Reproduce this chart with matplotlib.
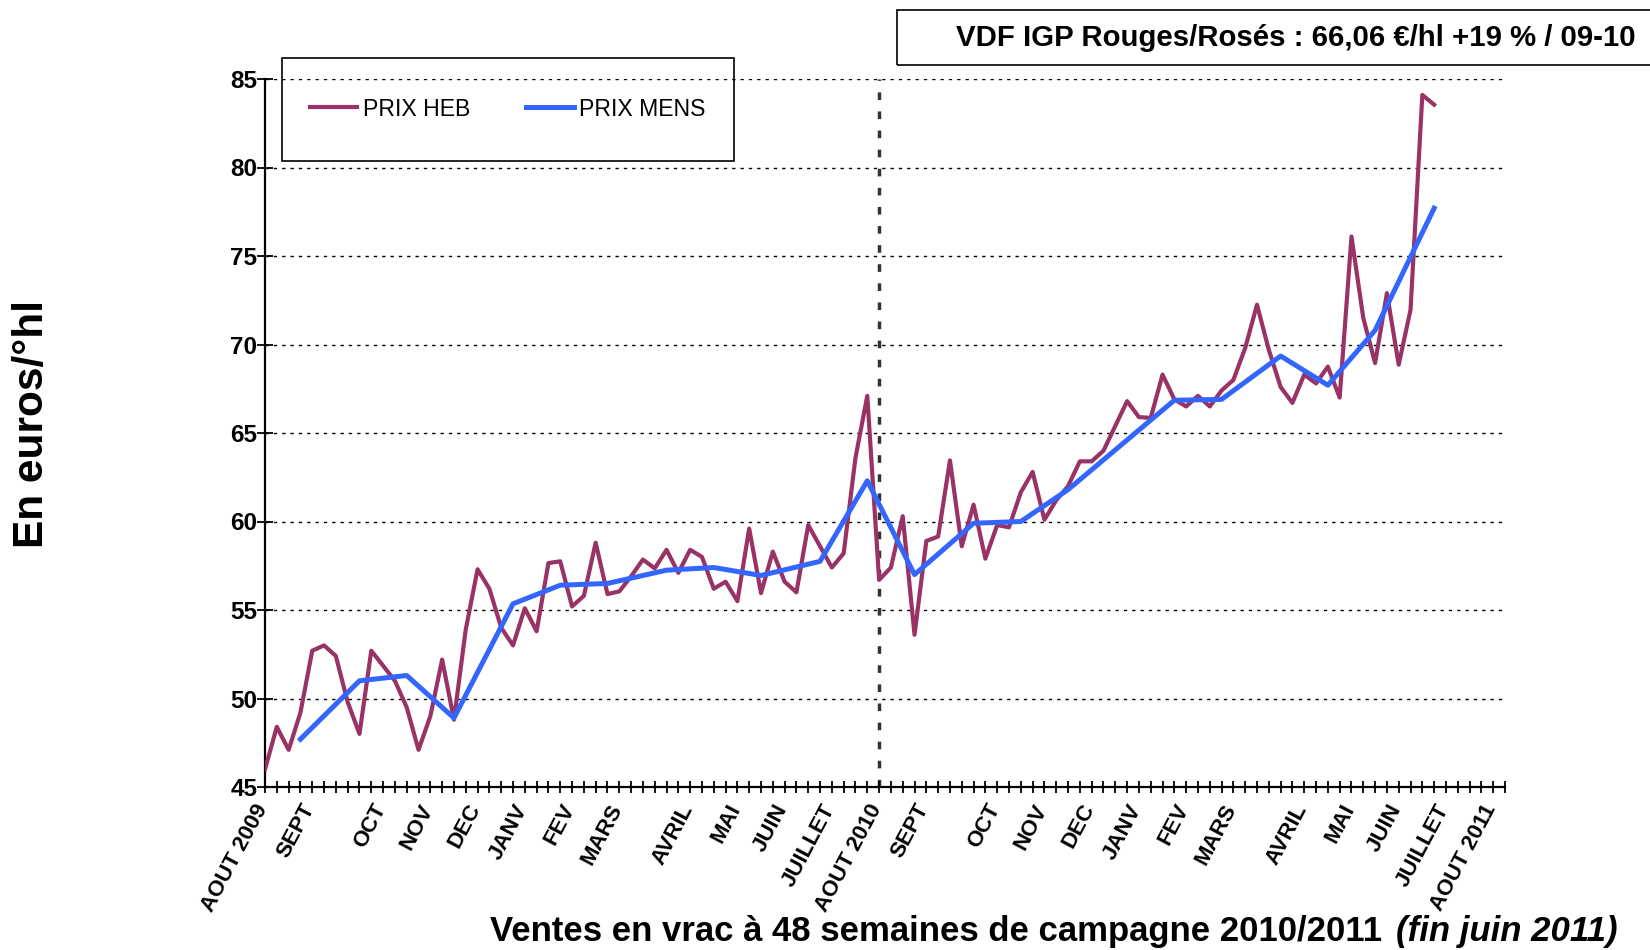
import matplotlib
matplotlib.use("Agg")
import matplotlib.pyplot as plt
from matplotlib.patches import Rectangle
import matplotlib.transforms as mtransforms

plt.rcParams['font.family'] = ['Liberation Sans', 'DejaVu Sans']

# weekly price (PRIX HEB), one point per week from AOUT 2009
heb = [46.0, 48.4, 47.1, 49.2, 52.7, 53.0, 52.4, 49.8, 48.0, 52.7,
       51.85, 51.0, 49.5, 47.1, 49.0, 52.2, 48.8, 53.9, 57.3, 56.2,
       54.0, 53.0, 55.1, 53.8, 57.65, 57.75, 55.2, 55.8, 58.8, 55.9,
       56.05, 56.9, 57.85, 57.35, 58.4, 57.1, 58.4, 58.0, 56.2, 56.6,
       55.5, 59.6, 55.95, 58.3, 56.6, 56.0, 59.8, 58.6, 57.4, 58.2,
       63.6, 67.1, 56.7, 57.4, 60.3, 53.6, 58.9, 59.15, 63.45, 58.6,
       60.95, 57.9, 59.8, 59.67, 61.65, 62.8, 60.1, 61.2, 62.0, 63.4,
       63.4, 64.0, 65.4, 66.8, 65.9, 65.85, 68.3, 66.9, 66.5, 67.1,
       66.5, 67.4, 68.0, 69.8, 72.25, 69.7, 67.6, 66.7, 68.3, 67.8,
       68.75, 67.0, 76.1, 71.5, 68.95, 72.9, 68.86, 71.96, 84.1, 83.55]
weeks = list(range(len(heb)))

# monthly price (PRIX MENS)
mens_weeks = [3, 8, 12, 16, 21, 25, 29, 34, 38, 42, 47, 51,
              55, 60, 64, 68, 77, 81, 86, 90, 94, 99]
mens = [47.7, 51.0, 51.3, 48.9, 55.35, 56.4, 56.5, 57.25, 57.4, 56.95, 57.75, 62.3,
        57.0, 59.9, 60.0, 61.8, 66.85, 66.9, 69.35, 67.7, 70.8, 77.7]

month_pos = [0, 4, 10, 14, 18, 22, 26, 30, 36, 40, 44, 48, 52,
             56, 62, 66, 70, 74, 78, 82, 88, 92, 96, 100, 104]
month_lab = ['AOUT 2009', 'SEPT', 'OCT', 'NOV', 'DEC', 'JANV', 'FEV', 'MARS',
             'AVRIL', 'MAI', 'JUIN', 'JUILLET', 'AOUT 2010',
             'SEPT', 'OCT', 'NOV', 'DEC', 'JANV', 'FEV', 'MARS',
             'AVRIL', 'MAI', 'JUIN', 'JUILLET', 'AOUT 2011']
n_ticks = 106

fig = plt.figure(figsize=(16.5, 9.5), dpi=100)
ax = fig.add_axes([265/1650, 1-787/950, 1240/1650, 708/950])

# grid
for v in range(50, 90, 5):
    ax.axhline(v, color='black', lw=1.0, dashes=(2.4, 3.6), zorder=1)
ax.axvline(52, color='#333333', lw=2.5, dashes=(2.2, 3.3), zorder=1)

ax.plot(weeks, heb, color='#993366', lw=3.0, label='PRIX HEB', zorder=3)
ax.plot(mens_weeks, mens, color='#3366FF', lw=3.6, label='PRIX MENS', zorder=4)

ax.set_xlim(0, n_ticks - 1)
ax.set_ylim(45, 85)
ax.set_yticks(range(45, 90, 5))
ax.tick_params(axis='y', direction='inout', length=11, width=1.3, labelsize=17.5, pad=0)
for t in ax.get_yticklabels():
    t.set_fontweight('bold')

labels = [''] * n_ticks
for p, l in zip(month_pos, month_lab):
    labels[p] = l
ax.set_xticks(range(n_ticks))
ax.set_xticklabels(labels, rotation=62, rotation_mode='anchor', ha='right',
                   va='center', fontsize=16, fontweight='bold')
ax.tick_params(axis='x', direction='inout', length=8.5, width=1.3, pad=9)
shift = mtransforms.ScaledTranslation(-2/100, 0, fig.dpi_scale_trans)
for t in ax.get_xticklabels():
    t.set_transform(t.get_transform() + shift)

for s in ['top', 'right']:
    ax.spines[s].set_visible(False)
for s in ['left', 'bottom']:
    ax.spines[s].set_linewidth(1.6)

# legend: frameless entries plus a drawn box
leg = ax.legend(ncol=2, loc='center left',
                bbox_to_anchor=(310/1650, 1-109/950),
                bbox_transform=fig.transFigure, fontsize=16.6, frameon=False,
                borderpad=0, borderaxespad=0, handlelength=2.06,
                handletextpad=0.22, columnspacing=2.45)
fig.patches.append(Rectangle((282/1650, 1-161/950), 452/1650, 103/950,
                             transform=fig.transFigure, fill=False,
                             edgecolor='black', lw=1.2))

# title box
fig.patches.append(Rectangle((897/1650, 1-65/950), 0.6, 54.5/950,
                             transform=fig.transFigure, fill=False,
                             edgecolor='black', lw=1.2, clip_on=False))
fig.text(956/1650, 1-38/950, 'VDF IGP Rouges/Rosés : 66,06 €/hl +19 % / 09-10',
         ha='left', va='center', fontsize=21.2, fontweight='bold')

fig.text(32/1650, 1-424/950, 'En euros/°hl', rotation=90, ha='center',
         va='center', fontsize=30.5, fontweight='bold')

fig.text(1382/1650, 1-932/950, 'Ventes en vrac à 48 semaines de campagne 2010/2011',
         ha='right', va='center', fontsize=25, fontweight='bold')
fig.text(1396/1650, 1-932/950, '(fin juin 2011)', ha='left', va='center',
         fontsize=25, fontweight='bold', style='italic')

fig.savefig('out.png', dpi=100)
